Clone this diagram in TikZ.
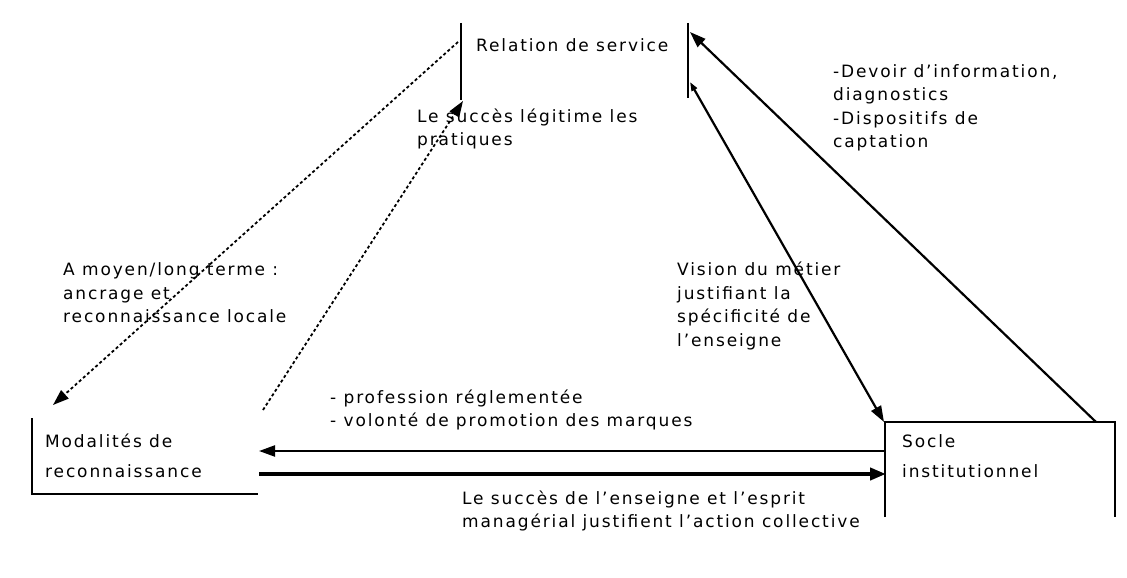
\documentclass[tikz,border=0pt]{standalone}
\usepackage{fontspec}
\setmainfont{DejaVu Sans}[LetterSpace=11]
\usetikzlibrary{arrows.meta}
\begin{document}
\begin{tikzpicture}[x=1pt,y=-1pt,
  lbl/.style={anchor=west,align=left,inner sep=0pt,font=\fontsize{17}{23.5}\selectfont},
  boxline/.style={line width=2pt},
  conn/.style={line width=2.2pt,-{Triangle[length=16pt,width=11pt]}},
  dconn/.style={line width=1.8pt,dash pattern=on 3pt off 2.5pt,-{Triangle[length=16pt,width=11pt]}},
  heavyconn/.style={line width=4pt,-{Triangle[length=16pt,width=12pt]}}]
\useasboundingbox (0,0) rectangle (1127,578);
% boxes
\node[lbl] (rel) at (476,45) {Relation de service};
\draw[boxline] (461,23) -- (461,100);
\draw[boxline] (688,23) -- (688,98);
\node[lbl,font=\fontsize{17}{30}\selectfont] (mod) at (45,456) {Modalités de\\reconnaissance};
\draw[boxline] (32,418) -- (32,494) -- (258,494);
\node[lbl,font=\fontsize{17}{30}\selectfont] (soc) at (902,456) {Socle\\institutionnel};
\draw[boxline] (885,517) -- (885,422) -- (1115,422) -- (1115,517);
% anchor coordinates
\coordinate (relL) at (458,42);
\coordinate (relB) at (463,101);
\coordinate (relRt) at (690,32);
\coordinate (relRb) at (690,82);
\coordinate (modT) at (53,405);
\coordinate (modTR) at (263,410);
\coordinate (modR1) at (259,451);
\coordinate (modR2) at (259,474);
\coordinate (socTL) at (884,422);
\coordinate (socTR) at (1096,422);
\coordinate (socL1) at (885,451);
\coordinate (socL2) at (886,474);
% connectors
\draw[dconn] (relL) -- (modT);
\draw[dconn] (modTR) -- (relB);
\draw[conn,{Triangle[length=9pt,width=6pt]}-{Triangle[length=16pt,width=11pt]}] (relRb) -- (socTL);
\draw[conn] (socTR) -- (relRt);
\draw[conn] (socL1) -- (modR1);
\draw[heavyconn] (modR2) -- (socL2);
% labels
\node[lbl] (l1) at (417,129) {Le succès légitime les\\pratiques};
\node[lbl] (l2) at (833,108) {-Devoir d'information,\\diagnostics\\-Dispositifs de\\captation};
\node[lbl] (l3) at (63,293) {A moyen/long terme :\\ancrage et\\reconnaissance locale};
\node[lbl] (l4) at (677,306) {Vision du métier\\justifiant la\\spécificité de\\l'enseigne};
\node[lbl] (l5) at (330,410) {- profession réglementée\\- volonté de promotion des marques};
\node[lbl] (l6) at (462,511) {Le succès de l'enseigne et l'esprit\\managérial justifient l'action collective};
\end{tikzpicture}
\end{document}
